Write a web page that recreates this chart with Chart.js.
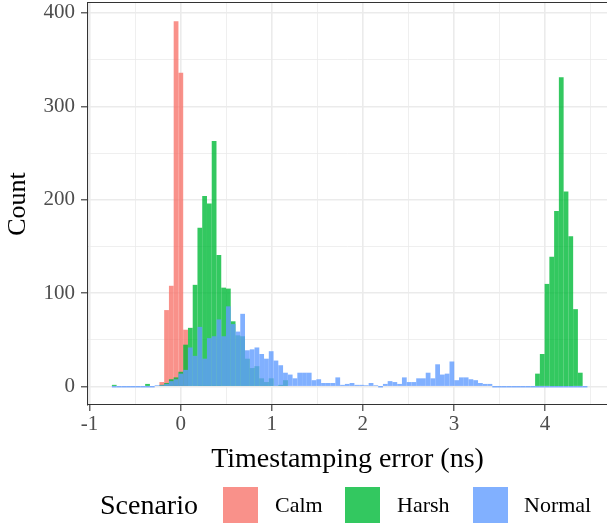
<!DOCTYPE html>
<html>
<head>
<meta charset="utf-8">
<script src="https://cdn.jsdelivr.net/npm/chart.js@4.4.1/dist/chart.umd.min.js"></script>
<style>
  html, body { margin: 0; padding: 0; background: #fff; }
  #wrap { position: relative; width: 607px; height: 523px; overflow: hidden; }
  #legend { position: absolute; left: 0; top: 487px; width: 607px; height: 36px; font-family: 'Liberation Serif', serif; color: #000; }
  .lg-title { position: absolute; left: 100px; top: 0; line-height: 36px; font-size: 28px; }
  .lg-box { position: absolute; top: 0; width: 35px; height: 36px; }
  .lg-label { position: absolute; top: 0; line-height: 36px; font-size: 22px; }
</style>
</head>
<body>
<div id="wrap">
  <canvas id="histChart" width="607" height="523"></canvas>
  <div id="legend"></div>
</div>
<script>
// histogram bins (ns): 100 bins of equal width
const binStart = -0.755;
const binWidth = 0.0522;

const scenarios = ['Calm', 'Harsh', 'Normal'];

// counts per bin
const calmCounts = [
  0, 0, 0, 0, 0, 0, 0, 0, 0, 0,
  5, 82, 108, 391, 336, 61, 0, 0, 0, 0,
  0, 0, 0, 0, 0, 0, 0, 0, 0, 0,
  0, 0, 0, 0, 0, 0, 0, 0, 0, 0,
  0, 0, 0, 0, 0, 0, 0, 0, 0, 0,
  0, 0, 0, 0, 0, 0, 0, 0, 0, 0,
  0, 0, 0, 0, 0, 0, 0, 0, 0, 0,
  0, 0, 0, 0, 0, 0, 0, 0, 0, 0,
  0, 0, 0, 0, 0, 0, 0, 0, 0, 0,
  0, 0, 0, 0, 0, 0, 0, 0, 0, 0
];
const harshCounts = [
  2, 0, 0, 0, 0, 0, 0, 3, 0, 0,
  2, 4, 8, 10, 16, 45, 63, 109, 170, 204,
  196, 263, 141, 106, 105, 70, 55, 54, 30, 20,
  22, 9, 5, 9, 1, 2, 7, 0, 0, 0,
  0, 0, 0, 0, 0, 0, 0, 0, 0, 0,
  0, 0, 0, 0, 0, 0, 0, 0, 0, 0,
  0, 0, 0, 0, 0, 0, 0, 0, 0, 0,
  0, 0, 0, 0, 0, 0, 0, 0, 0, 0,
  0, 0, 0, 0, 0, 0, 0, 0, 0, 14,
  35, 110, 139, 188, 331, 209, 161, 83, 15, 0
];
const normalCounts = [
  0, 0, 0, 0, 0, 0, 0, 0, 0, 1,
  1, 3, 6, 8, 14, 18, 42, 33, 64, 30,
  52, 54, 72, 54, 86, 67, 59, 78, 39, 40,
  42, 35, 30, 38, 28, 23, 15, 13, 9, 15,
  15, 15, 7, 8, 4, 4, 4, 10, 2, 3,
  4, 2, 2, 1, 4, 1, 0, 3, 6, 5,
  3, 10, 5, 5, 9, 9, 15, 9, 24, 13,
  14, 27, 7, 10, 10, 8, 7, 4, 3, 3,
  0, 0, 0, 0, 0, 0, 0, 0, 0, 0,
  0, 0, 0, 0, 0, 0, 0, 0, 0, 0
];

const xTicks = [-1, 0, 1, 2, 3, 4];
const yTicks = [0, 100, 200, 300, 400];

const fills = ['rgba(248,118,109,0.8)', 'rgba(0,186,56,0.8)', 'rgba(97,156,255,0.8)'];
const serif = "'Liberation Serif', 'Times New Roman', serif";

const toPoints = counts => counts.map((c, i) => ({ x: binStart + (i + 0.5) * binWidth, y: c }));
const isMajor = (v, list) => list.some(t => Math.abs(t - v) < 1e-6);
// keep the plot panel where ggplot puts it: no extra room for edge labels
const noEdgePad = s => { s.paddingTop = 0; s.paddingBottom = 0; s.paddingLeft = 0; s.paddingRight = 0; };

const ctx = document.getElementById('histChart').getContext('2d');
const histChart = new Chart(ctx, {
    type: 'bar',
    data: {
        datasets: [
            { label: scenarios[0], data: toPoints(calmCounts), backgroundColor: fills[0], order: 3 },
            { label: scenarios[1], data: toPoints(harshCounts), backgroundColor: fills[1], order: 2 },
            { label: scenarios[2], data: toPoints(normalCounts), backgroundColor: fills[2], order: 1, minBarLength: 1.5 }
        ]
    },
    options: {
        responsive: false,
        animation: false,
        grouped: false,
        barPercentage: 1,
        categoryPercentage: 1,
        inflateAmount: 0,
        layout: { padding: { top: 3, right: 0, bottom: 0, left: 0 } },
        plugins: { legend: { display: false }, tooltip: { enabled: false } },
        scales: {
            x: {
                type: 'linear',
                position: 'bottom',
                offset: false,
                min: -1.017,
                max: 4.68,
                afterFit: s => { s.height = 118; noEdgePad(s); },
                grid: {
                    offset: false,
                    color: '#ebebeb',
                    lineWidth: c => (c.tick && isMajor(c.tick.value, xTicks)) ? 1.6 : 0.8,
                    tickColor: c => (c.tick && isMajor(c.tick.value, xTicks)) ? '#333333' : 'rgba(0,0,0,0)',
                    tickLength: 6,
                    tickWidth: 1.1
                },
                border: { display: true, color: '#333333', width: 1.1 },
                ticks: {
                    stepSize: 0.5,
                    includeBounds: false,
                    autoSkip: false,
                    maxRotation: 0,
                    padding: 1,
                    color: '#4d4d4d',
                    font: { family: serif, size: 21 },
                    callback: v => isMajor(v, xTicks) ? String(Math.round(v)) : ''
                },
                title: {
                    display: true,
                    text: 'Timestamping error (ns)',
                    color: '#000',
                    font: { family: serif, size: 28 },
                    padding: { top: 0, bottom: 47 }
                }
            },
            xTop: {
                type: 'linear',
                axis: 'x',
                position: 'top',
                display: true,
                afterFit: s => { s.height = 0; noEdgePad(s); },
                grid: { display: false, drawTicks: false },
                ticks: { display: false },
                border: { display: true, color: '#333333', width: 1.1 }
            },
            y: {
                type: 'linear',
                min: -19.55,
                max: 410.55,
                afterFit: s => { s.width = 88; noEdgePad(s); },
                grid: {
                    color: '#ebebeb',
                    lineWidth: c => (c.tick && isMajor(c.tick.value, yTicks)) ? 1.6 : 0.8,
                    tickColor: c => (c.tick && isMajor(c.tick.value, yTicks)) ? '#333333' : 'rgba(0,0,0,0)',
                    tickLength: 7,
                    tickWidth: 1.1
                },
                border: { display: true, color: '#333333', width: 1.1 },
                ticks: {
                    stepSize: 50,
                    includeBounds: false,
                    autoSkip: false,
                    padding: 6,
                    color: '#4d4d4d',
                    font: { family: serif, size: 21 },
                    callback: v => isMajor(v, yTicks) ? String(v) : ''
                },
                title: {
                    display: true,
                    text: 'Count',
                    color: '#000',
                    font: { family: serif, size: 26 },
                    padding: { top: 3, bottom: 0 }
                }
            }
        }
    }
});

// legend below the plot, laid out like the ggplot guide
const legend = document.getElementById('legend');
const boxLeft = [223, 345, 473];
const labelLeft = [275, 397, 524];
legend.innerHTML = '<span class="lg-title">Scenario</span>' + scenarios.map((s, i) =>
    '<span class="lg-box" style="left:' + boxLeft[i] + 'px;background:' + fills[i] + '"></span>' +
    '<span class="lg-label" style="left:' + labelLeft[i] + 'px">' + s + '</span>'
).join('');
</script>
</body>
</html>
